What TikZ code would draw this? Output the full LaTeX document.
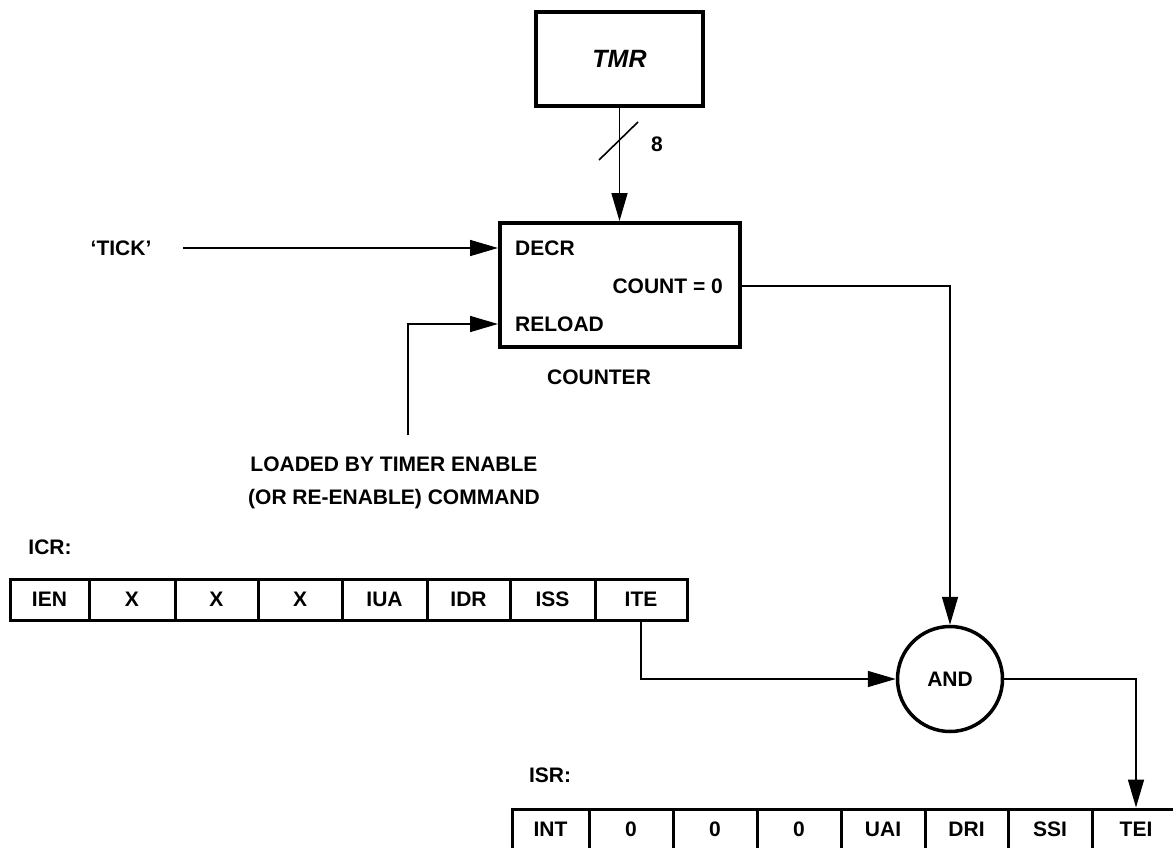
\documentclass[tikz,border=0pt]{standalone}
\usepackage{fontspec}
\setmainfont{Liberation Sans}
\usetikzlibrary{arrows.meta, positioning, calc}

\tikzset{
  txt/.style={font=\fontsize{21}{25}\selectfont\bfseries, inner sep=0pt},
  blockbox/.style={draw, line width=4pt, inner sep=0pt},
  wire/.style={line width=1.6pt},
  sig/.style={wire, -{Triangle[length=28pt,width=16pt]}},
  regcell/.style={draw, line width=3pt, txt, minimum height=41pt},
}

\begin{document}
\begin{tikzpicture}[x=1pt, y=-1pt]
  \useasboundingbox (0,0) rectangle (1173,848);
  \clip (0,0) rectangle (1173,848);

  %% Timer register and counter
  \node[blockbox, minimum width=167pt, minimum height=94pt,
        font=\fontsize{25}{30}\selectfont\bfseries\itshape] (tmr) at (619.5,59) {TMR};
  \node[blockbox, minimum width=240pt, minimum height=124pt] (counter) at (620,285) {};
  \node[txt, anchor=west] (decr) at (515,248) {DECR};
  \node[txt, anchor=east] (zero) at (723,286) {COUNT = 0};
  \node[txt, anchor=west] (reload) at (515,324) {RELOAD};
  \node[txt] (cntname) at (599,377) {COUNTER};

  %% 8-bit bus into the counter
  \draw[sig] (tmr.south) -- (tmr.south |- counter.north);
  \draw[wire] (599,160) -- (638,122);
  \node[txt] (buswidth) at (657,144) {8};

  %% Counter inputs
  \node[txt] (tick) at (121,248) {‘TICK’};
  \coordinate (tickin) at (183,248);
  \draw[sig] (tickin) -- (tickin -| counter.west);
  \coordinate (loadsrc) at (408,435);
  \draw[sig] (loadsrc) |- (counter.west |- reload.west);
  \node[txt, font=\fontsize{21}{33}\selectfont\bfseries, align=center] (loadnote) at (394,483)
    {LOADED BY TIMER ENABLE\\(OR RE-ENABLE) COMMAND};

  %% ICR
  \node[txt] (icrlbl) at (50,547) {ICR:};
  \foreach \i/\xa/\xb/\lab in {1/10/89/IEN, 2/89/175/X, 3/175/258/X, 4/258/342/X,
                               5/342/427/IUA, 6/427/510/IDR, 7/510/595/ISS, 8/595/687/ITE}{
    \pgfmathsetmacro\cw{\xb-\xa}
    \node[regcell, minimum width=\cw pt] (icr\i) at ({(\xa+\xb)/2},599.5) {\lab};
  }

  %% AND gate
  \node[draw, circle, line width=3.5pt, minimum size=105pt, txt] (andgate) at (950,679) {AND};

  %% ISR
  \node[txt] (isrlbl) at (550,775) {ISR:};
  \foreach \i/\xa/\xb/\lab in {1/512/589/INT, 2/589/673/0, 3/673/757/0, 4/757/841/0,
                               5/841/925/UAI, 6/925/1008/DRI, 7/1008/1092/SSI, 8/1092/1180/TEI}{
    \pgfmathsetmacro\cw{\xb-\xa}
    \node[regcell, minimum width=\cw pt] (isr\i) at ({(\xa+\xb)/2},829.5) {\lab};
  }

  %% Interrupt logic
  \draw[sig] (counter.east |- zero.east) -| (andgate.north);
  \draw[sig] (icr8.south) |- (andgate.west);
  \draw[sig] (andgate.east) -| (isr8.north);

\end{tikzpicture}
\end{document}
